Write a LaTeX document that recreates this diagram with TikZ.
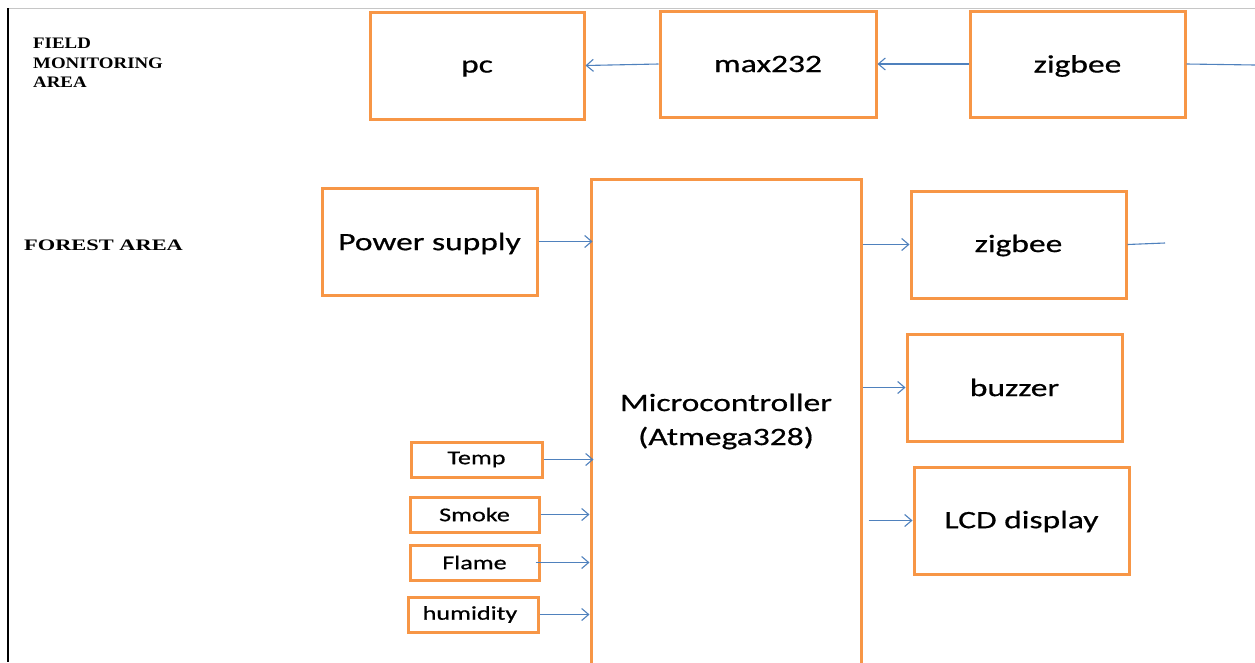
\documentclass[tikz,border=0pt]{standalone}
\usepackage{fontspec}
\usetikzlibrary{arrows.meta}
\newfontfamily\boxfont[FakeStretch=1.34,FakeBold=0.6]{Carlito}
\newfontfamily\labfont[FakeStretch=1.18]{Liberation Serif}
\newfontfamily\labwidefont[FakeStretch=1.4]{Liberation Serif}
\definecolor{boxorange}{RGB}{247,150,70}
\definecolor{linkblue}{RGB}{79,129,189}
\newcommand{\dn}[2]{\raisebox{-#1}[\height][\depth]{#2}}
\tikzset{
  blk/.style={draw=boxorange, line width=3pt, fill=white, inner sep=0pt,
    font=\boxfont\fontsize{25}{34}\selectfont, align=center},
  sens/.style={draw=boxorange, line width=3pt, fill=white, inner sep=0pt,
    font=\boxfont\fontsize{19.5}{22}\selectfont},
  link/.style={draw=linkblue, line width=1.1pt, -{Straight Barb[length=7pt,width=12pt]}},
  plainlink/.style={draw=linkblue, line width=1.1pt},
  area/.style={font=\labfont\bfseries\fontsize{16}{19.5}\selectfont, align=left, inner sep=0pt}
}
\begin{document}
\begin{tikzpicture}[x=1pt,y=-1pt]
\clip (0,0) rectangle (1255,662);
\fill[white] (0,0) rectangle (1255,662);
% frame lines
\draw[gray!45, line width=1pt] (8,8) -- (1255,8);
\draw[black, line width=2pt] (8,8) -- (8,662);
% area labels
\node[area, anchor=west] (fma) at (33,63) {FIELD\\MONITORING\\AREA};
\node[area, anchor=west, font=\labwidefont\bfseries\fontsize{16}{19.5}\selectfont] (fa) at (24,245) {FOREST AREA};
% top row
\node[blk, minimum width=214pt, minimum height=107pt] (pc) at (477,65.5) {\dn{3pt}{pc}};
\node[blk, minimum width=216pt, minimum height=106pt] (max) at (768,64) {\dn{0pt}{max232}};
\node[blk, minimum width=215pt, minimum height=106pt] (zt) at (1077.5,64) {\dn{2pt}{zigbee}};
% forest area
\node[blk, minimum width=215pt, minimum height=107pt] (pw) at (429.5,241.5) {\dn{2pt}{Power supply}};
\node[blk, minimum width=270pt, minimum height=485pt] (mcu) at (726,421.5) {Microcontroller\\(Atmega328)};
\node[blk, minimum width=215pt, minimum height=107pt] (zb) at (1018.5,244.5) {\dn{1pt}{zigbee}};
\node[blk, minimum width=215pt, minimum height=107pt] (bz) at (1014.5,387.5) {buzzer};
\node[blk, minimum width=215pt, minimum height=107pt] (lcd) at (1021.5,520.5) {\dn{1pt}{LCD display}};
% sensors
\node[sens, minimum width=131pt, minimum height=35pt] (tmp) at (476.5,459.5) {Temp};
\node[sens, minimum width=129pt, minimum height=35pt] (smk) at (474.5,514.5) {Smoke};
\node[sens, minimum width=129pt, minimum height=35pt] (flm) at (474.5,562.5) {Flame};
\node[sens, minimum width=130pt, minimum height=35pt] (hum) at (473,614.5) {\hspace*{-6pt}humidity};
% free ends
\coordinate (ztout) at (1255,65);
\coordinate (zbout) at (1165,243);
% connectors top
\draw[link] (max.west) -- (pc.east);
\draw[link] (zt.west) -- (max.east);
\draw[plainlink] (zt.east) -- (ztout);
% connectors forest
\draw[link] (pw.east) -- ([xshift=3pt]mcu.west |- pw.east);
\draw[link] (mcu.east |- zb.west) -- (zb.west);
\draw[plainlink] (zb.east) -- (zbout);
\draw[link] (mcu.east |- bz.west) -- (bz.west);
\draw[link] ([xshift=6pt]mcu.east |- lcd.west) -- (lcd.west);
\draw[link] (tmp.east) -- ([xshift=4pt]mcu.west |- tmp.east);
\draw[link] (smk.east) -- (mcu.west |- smk.east);
\draw[link] ([xshift=-5pt]flm.east) -- (mcu.west |- flm.east);
\draw[link] (hum.east) -- (mcu.west |- hum.east);
\end{tikzpicture}
\end{document}
